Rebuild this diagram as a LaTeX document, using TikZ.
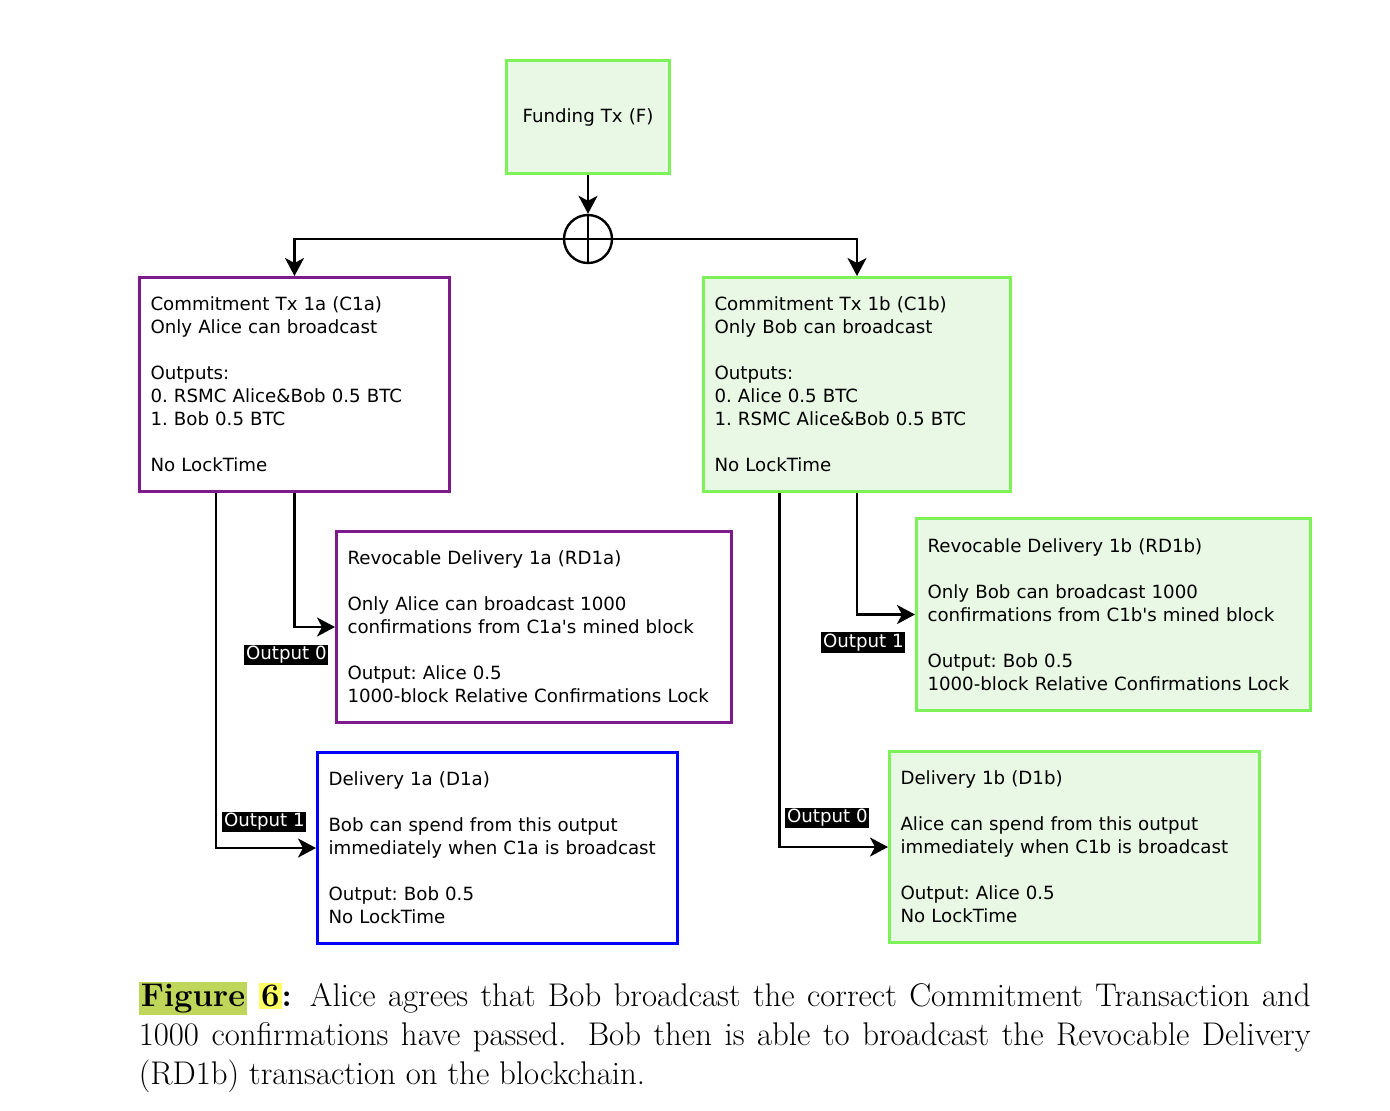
\documentclass[tikz,border=0pt]{standalone}
\usepackage{fontspec}
\usetikzlibrary{arrows.meta,positioning,calc}
\newfontfamily\dejavu{DejaVu Sans}
\newcommand{\boxfont}{\dejavu\fontsize{9.1}{11.5}\selectfont\frenchspacing}
\definecolor{purp}{RGB}{125,26,140}
\definecolor{txgreen}{RGB}{124,242,88}
\definecolor{txfill}{RGB}{232,248,228}
\definecolor{figgreen}{RGB}{190,214,90}
\definecolor{figyellow}{RGB}{255,255,100}
\tikzset{every picture/.style={line width=0.75pt}}

\begin{document}
\begin{tikzpicture}[x=0.5pt,y=-0.5pt,
    txbox/.style={draw,line width=1.5pt,anchor=north west,align=left,
        inner xsep=5.5pt,inner ysep=0pt,font=\boxfont},
    greenbox/.style={txbox,draw=txgreen,fill=txfill},
    purpbox/.style={txbox,draw=purp,fill=white},
    conn/.style={line width=1.2pt,-{Stealth[length=9pt,width=9.5pt,inset=2.5pt]}},
    outlbl/.style={fill=black,text=white,inner sep=0.8pt,font=\boxfont}]
    \useasboundingbox (0,0) rectangle (1390,1110);

    % Funding transaction and split
    \node[greenbox,align=center,text width=70.5pt,minimum height=56.5pt] (fund) at (505,59) {Funding Tx (F)};
    \node[draw,circle,line width=1.2pt,minimum size=24pt,inner sep=0pt] (xor) at ($(fund.south)+(0,64)$) {};
    \draw[line width=1.2pt] (xor.north) -- (xor.south);

    % Commitment transactions
    \node[purpbox,text width=144pt,minimum height=107pt] (c1a) at (138,276)
        {Commitment Tx 1a (C1a)\\Only Alice can broadcast\\[11.5pt]Outputs:\\0. RSMC Alice\&Bob 0.5 BTC\\1. Bob 0.5 BTC\\[11.5pt]No LockTime};
    \node[greenbox,text width=142.5pt,minimum height=107pt] (c1b) at (702,276)
        {Commitment Tx 1b (C1b)\\Only Bob can broadcast\\[11.5pt]Outputs:\\0. Alice 0.5 BTC\\1. RSMC Alice\&Bob 0.5 BTC\\[11.5pt]No LockTime};

    % Delivery transactions
    \node[purpbox,text width=186.5pt,minimum height=95.5pt] (rd1a) at (335,530)
        {Revocable Delivery 1a (RD1a)\\[11.5pt]Only Alice can broadcast 1000\\confirmations from C1a's mined block\\[11.5pt]Output: Alice 0.5\\1000-block Relative Confirmations Lock};
    \node[txbox,draw=blue,fill=white,text width=169pt,minimum height=95.5pt] (d1a) at (316,751)
        {Delivery 1a (D1a)\\[11.5pt]Bob can spend from this output\\immediately when C1a is broadcast\\[11.5pt]Output: Bob 0.5\\No LockTime};
    \node[greenbox,text width=186pt,minimum height=96pt] (rd1b) at (915,517)
        {Revocable Delivery 1b (RD1b)\\[11.5pt]Only Bob can broadcast 1000\\confirmations from C1b's mined block\\[11.5pt]Output: Bob 0.5\\1000-block Relative Confirmations Lock};
    \node[greenbox,text width=174pt,minimum height=95.5pt] (d1b) at (888,750)
        {Delivery 1b (D1b)\\[11.5pt]Alice can spend from this output\\immediately when C1b is broadcast\\[11.5pt]Output: Alice 0.5\\No LockTime};

    % Connectors
    \draw[conn] (fund.south) -- (xor.north);
    \draw[conn] (xor.center) -| (c1a.north);
    \draw[conn] (xor.center) -| (c1b.north);
    \draw[conn] (c1a.south) |- (rd1a.west);
    \draw[conn] ($(c1a.south west)!0.25!(c1a.south east)$) |- (d1a.west);
    \draw[conn] (c1b.south) |- (rd1b.west);
    \draw[conn] ($(c1b.south west)!0.25!(c1b.south east)$) |- (d1b.west);

    % Output labels
    \node[outlbl,below left=8.5pt and 3pt of rd1a.west] (o0a) {Output 0};
    \node[outlbl,above left=7.5pt and 4.5pt of d1a.west] (o1a) {Output 1};
    \node[outlbl,below left=8.5pt and 4.5pt of rd1b.west] (o1b) {Output 1};
    \node[outlbl,above left=9pt and 9pt of d1b.west] (o0b) {Output 0};

    % Caption
    \node[anchor=north west,inner sep=0pt,text width=586pt,align=justify,
        font=\fontsize{16.4}{19.5}\selectfont] (cap) at (138,981)
        {\setlength{\fboxsep}{1pt}\colorbox{figgreen}{\textbf{Figure}}\hspace{6pt}\colorbox{figyellow}{\textbf{6}}\textbf{:} Alice agrees that Bob broadcast the correct Commitment Transaction and\linebreak 1000 confirmations have passed. Bob then is able to broadcast the Revocable Delivery\linebreak (RD1b) transaction on the blockchain.};
\end{tikzpicture}
\end{document}
